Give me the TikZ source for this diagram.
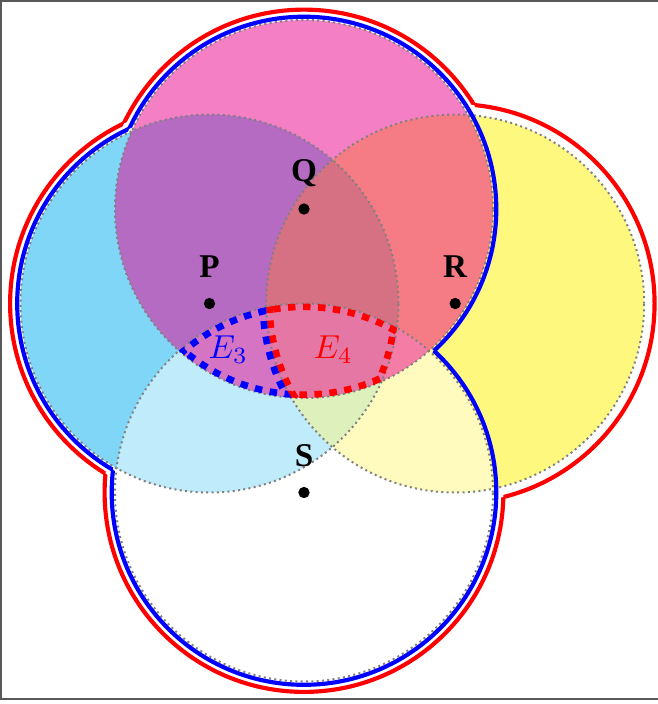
\documentclass[tikz,border=0pt]{standalone}
\usepackage{fontspec}
\newfontfamily\lblfont{Liberation Serif}
\begin{document}
\begin{tikzpicture}[
  fillP/.style={fill=pc, fill opacity=0.5},
  fillR/.style={fill=rc, fill opacity=0.5},
  fillS/.style={fill=white, fill opacity=0.5},
  fillQ/.style={fill=qc, fill opacity=0.5},
  rim/.style={draw=gray, densely dotted, line width=0.6pt},
  blueline/.style={draw=blue, line width=1.25pt},
  redline/.style={draw=red, line width=1.25pt},
  bluedash/.style={draw=blue, line width=4pt, dash pattern=on 2.3pt off 2.3pt},
  reddash/.style={draw=red, line width=4pt, dash pattern=on 2.3pt off 2.3pt},
  ptlabel/.style={anchor=base, font=\lblfont\bfseries},
  ptdot/.style={fill=black}
]
\definecolor{pc}{RGB}{0,174,239}
\definecolor{qc}{RGB}{236,0,140}
\definecolor{rc}{RGB}{255,242,0}
\useasboundingbox (-3.217,-5.238) rectangle (3.746,2.212);
\draw[black!65, line width=0.5pt] (-3.206,-5.188) rectangle (3.80,2.204);

\coordinate (P) at (-1,-1);
\coordinate (Q) at (0,0);
\coordinate (R) at (1.6,-1);
\coordinate (S) at (0,-3);

% fills
\path[fillP] (P) circle (2);
\path[fillR] (R) circle (2);
\path[fillS] (S) circle (2);
\path[fillQ] (Q) circle (2);

% dotted rims
\path[rim] (P) circle (2);
\path[rim] (R) circle (2);
\path[rim] (S) circle (2);
\path[rim] (Q) circle (2);

% E4 = P n Q n R n S
\begin{scope}
  \clip (P) circle (2);
  \clip (Q) circle (2);
  \clip (R) circle (2);
  \clip (S) circle (2);
  \path[reddash] (P) circle (2);
  \path[reddash] (Q) circle (2);
  \path[reddash] (R) circle (2);
  \path[reddash] (S) circle (2);
\end{scope}
% E3 = P n Q n S minus R
\begin{scope}[even odd rule]
  \clip (P) circle (2);
  \clip (Q) circle (2);
  \clip (S) circle (2);
  \clip (-4,-6) rectangle (5,3) (R) circle (2);
  \path[bluedash] (Q) circle (2);
  \path[bluedash] (S) circle (2);
  \path[bluedash] (R) circle (2);
\end{scope}

\node[text=blue] (e3) at (-0.80,-1.49) {$E_3$};
\node[text=red] (e4) at (0.31,-1.49) {$E_4$};

% points and labels
\fill[ptdot] (P) circle (0.06);
\fill[ptdot] (Q) circle (0.06);
\fill[ptdot] (R) circle (0.06);
\fill[ptdot] (S) circle (0.06);
\node[ptlabel] (lP) at (-1,-0.72) {P};
\node[ptlabel] (lQ) at (0,0.29) {Q};
\node[ptlabel] (lR) at (1.6,-0.72) {R};
\node[ptlabel] (lS) at (0,-2.72) {S};

% blue outline: union of P, Q, S
\def\rb{2.035}
\begin{scope}[even odd rule]
  \clip (-4,-6) rectangle (5,3) (Q) circle (\rb);
  \clip (-4,-6) rectangle (5,3) (S) circle (\rb);
  \path[blueline] (P) circle (\rb);
\end{scope}
\begin{scope}[even odd rule]
  \clip (-4,-6) rectangle (5,3) (P) circle (\rb);
  \clip (-4,-6) rectangle (5,3) (S) circle (\rb);
  \path[blueline] (Q) circle (\rb);
\end{scope}
\begin{scope}[even odd rule]
  \clip (-4,-6) rectangle (5,3) (P) circle (\rb);
  \clip (-4,-6) rectangle (5,3) (Q) circle (\rb);
  \path[blueline] (S) circle (\rb);
\end{scope}

% red outline: union of P, Q, R, S
\def\rr{2.11}
\begin{scope}[even odd rule]
  \clip (-4,-6) rectangle (5,3) (Q) circle (\rr);
  \clip (-4,-6) rectangle (5,3) (R) circle (\rr);
  \clip (-4,-6) rectangle (5,3) (S) circle (\rr);
  \path[redline] (P) circle (\rr);
\end{scope}
\begin{scope}[even odd rule]
  \clip (-4,-6) rectangle (5,3) (P) circle (\rr);
  \clip (-4,-6) rectangle (5,3) (R) circle (\rr);
  \clip (-4,-6) rectangle (5,3) (S) circle (\rr);
  \path[redline] (Q) circle (\rr);
\end{scope}
\begin{scope}[even odd rule]
  \clip (-4,-6) rectangle (5,3) (P) circle (\rr);
  \clip (-4,-6) rectangle (5,3) (Q) circle (\rr);
  \clip (-4,-6) rectangle (5,3) (S) circle (\rr);
  \path[redline] (R) circle (\rr);
\end{scope}
\begin{scope}[even odd rule]
  \clip (-4,-6) rectangle (5,3) (P) circle (\rr);
  \clip (-4,-6) rectangle (5,3) (Q) circle (\rr);
  \clip (-4,-6) rectangle (5,3) (R) circle (\rr);
  \path[redline] (S) circle (\rr);
\end{scope}
\end{tikzpicture}
\end{document}
